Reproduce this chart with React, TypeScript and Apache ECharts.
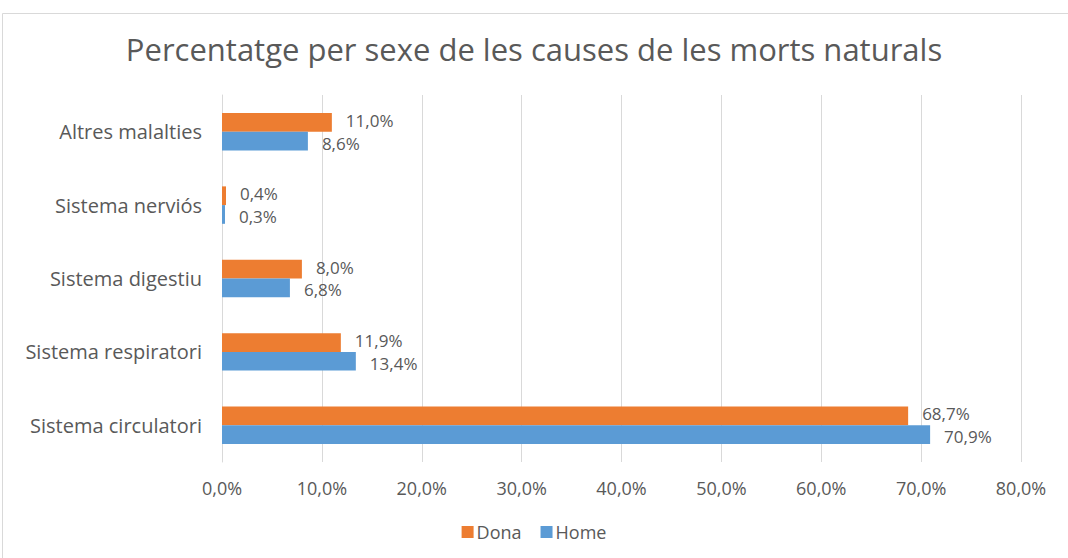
import React, { useEffect, useRef } from "react";
import * as echarts from "echarts";

const categories = [
  "Sistema circulatori",
  "Sistema respiratori",
  "Sistema digestiu",
  "Sistema nerviós",
  "Altres malalties",
];
const homeValues = [70.9, 13.4, 6.8, 0.3, 8.6];
const donaValues = [68.7, 11.9, 8.0, 0.4, 11.0];
const xTicks = { min: 0, max: 80, interval: 10 };

const fmt = (v: number) => v.toFixed(1).replace(".", ",") + "%";
const FONT = "'Open Sans', sans-serif";
const GRAY = "#595959";

const makeLabel = (dy: number) => ({
  show: true,
  position: "right",
  distance: 14,
  offset: [0, dy],
  formatter: (p: any) => fmt(p.value),
  color: GRAY,
  fontSize: 17,
  lineHeight: 17,
  fontFamily: FONT,
});

export default function App() {
  const ref = useRef<HTMLDivElement>(null);
  useEffect(() => {
    if (!ref.current) return;
    const chart = echarts.init(ref.current, undefined, { renderer: "svg" });
    chart.setOption({
      animation: false,
      backgroundColor: "#ffffff",
      textStyle: { fontFamily: FONT },
      title: {
        text: "Percentatge per sexe de les causes de les morts naturals",
        left: "center",
        top: 28,
        textStyle: { fontFamily: FONT, fontSize: 31, fontWeight: "normal", color: GRAY },
      },
      graphic: [
        {
          type: "rect",
          shape: { x: 2.5, y: 13.5, width: 1080, height: 560 },
          style: { fill: "none", stroke: "#d9d9d9", lineWidth: 1 },
          silent: true,
        },
      ],
      legend: {
        data: ["Dona", "Home"],
        top: 518,
        left: "center",
        itemWidth: 12,
        itemHeight: 12,
        itemGap: 19,
        icon: "rect",
        textStyle: { fontFamily: FONT, fontSize: 18, color: GRAY, padding: [0, 0, 0, -2] },
      },
      grid: { left: 222, right: 47, top: 95, bottom: 96 },
      xAxis: {
        type: "value",
        min: xTicks.min,
        max: xTicks.max,
        interval: xTicks.interval,
        axisLine: { show: false },
        axisTick: { show: false },
        axisLabel: { formatter: fmt, color: GRAY, fontSize: 18, margin: 17 },
        splitLine: { lineStyle: { color: "#d9d9d9", width: 1 } },
      },
      yAxis: {
        type: "category",
        data: categories,
        axisLine: { show: true, lineStyle: { color: "#d9d9d9" } },
        axisTick: { show: false },
        axisLabel: { color: GRAY, fontSize: 20, margin: 20 },
      },
      series: [
        {
          name: "Dona",
          type: "bar",
          data: donaValues,
          barGap: "0%",
          barCategoryGap: "49%",
          itemStyle: { color: "#ED7D31" },
          label: makeLabel(-2),
        },
        {
          name: "Home",
          type: "bar",
          data: homeValues,
          barGap: "0%",
          barCategoryGap: "49%",
          itemStyle: { color: "#5B9BD5" },
          label: makeLabel(2),
        },
      ],
    });
    return () => chart.dispose();
  }, []);
  return (
    <div
      ref={ref}
      style={{ position: "fixed", left: 0, top: 0, width: 1068, height: 558 }}
    />
  );
}
